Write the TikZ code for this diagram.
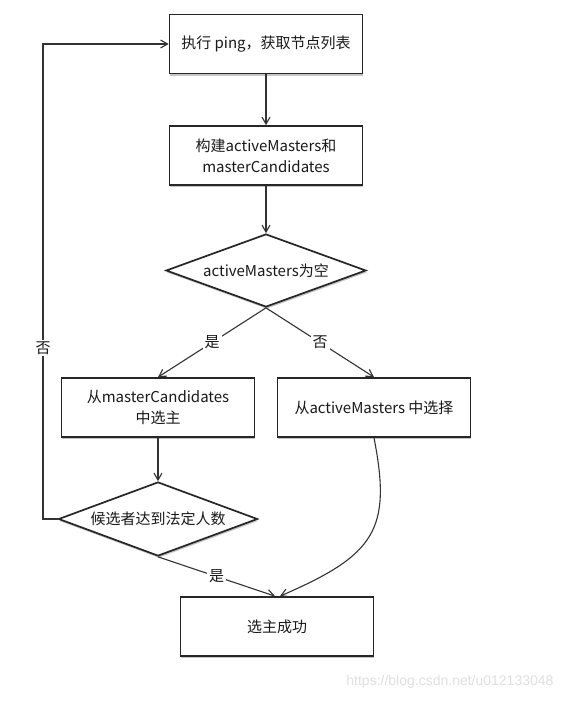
\documentclass[tikz,border=0pt]{standalone}
\usepackage{fontspec}
\setmainfont{Noto Sans CJK SC}
\newfontfamily\wmfont{Liberation Sans}
\usetikzlibrary{shapes.geometric,arrows.meta,shadows}
\begin{document}
\begin{tikzpicture}[x=1pt,y=-1pt]
    % \draw[step=50,help lines] (0,0) grid (566,701);
    \tikzstyle{every node}=[font=\fontsize{15}{21}\selectfont,text=black!90]
    \tikzstyle{box}=[draw=black!85,line width=1.7pt,fill=white,align=center,
      minimum width=193,minimum height=59,inner sep=0,
      drop shadow={shadow xshift=0.8pt,shadow yshift=-2pt,opacity=.45}]
    \tikzstyle{dia}=[box,shape=diamond,shape aspect=2.7,minimum height=73]
    \tikzstyle{flow}=[draw=black!80,line width=1.1pt,-{Straight Barb[length=7pt,width=8pt]}]
    \tikzstyle{lbl}=[fill=white,inner sep=2pt]

    \useasboundingbox[fill=white] (0,0) rectangle (566,701);

    \node[box,name=ping] at (266,44) {执行 ping，获取节点列表};
    \node[box,name=build] at (266,155.5) {构建activeMasters和\\masterCandidates};
    \node[dia,name=empty,minimum width=200] at (266,270.5) {activeMasters为空};
    \node[box,name=cand] at (158,407.5) {从masterCandidates\\中选主};
    \node[box,name=act] at (374,407.5) {从activeMasters 中选择};
    \node[dia,name=quorum,minimum width=199,minimum height=74] at (158,519) {候选者达到法定人数};
    \node[box,name=ok] at (277,626.5) {选主成功};

    \coordinate (loop) at (43,519);

    \draw[flow] (ping) -- (build);
    \draw[flow] (build) -- (empty);
    \draw[flow] (empty.south) -- node[lbl] {是} (cand.north);
    \draw[flow] (empty.south) -- node[lbl] {否} (act.north);
    \draw[flow] (cand) -- (quorum);
    \draw[flow] (quorum.west) -- (loop) |- node[lbl,pos=0.18] {否} (ping.west);
    \draw[flow] (quorum.south) -- node[lbl] {是} ([xshift=-2pt]ok.north);
    \draw[flow] (act.south) .. controls (392,530) and (375,555) .. ([xshift=3pt]ok.north);

    \node[font=\wmfont\fontsize{14}{16}\selectfont,text=black!12,anchor=east] at (557,682) {https://blog.csdn.net/u012133048};
\end{tikzpicture}
\end{document}
